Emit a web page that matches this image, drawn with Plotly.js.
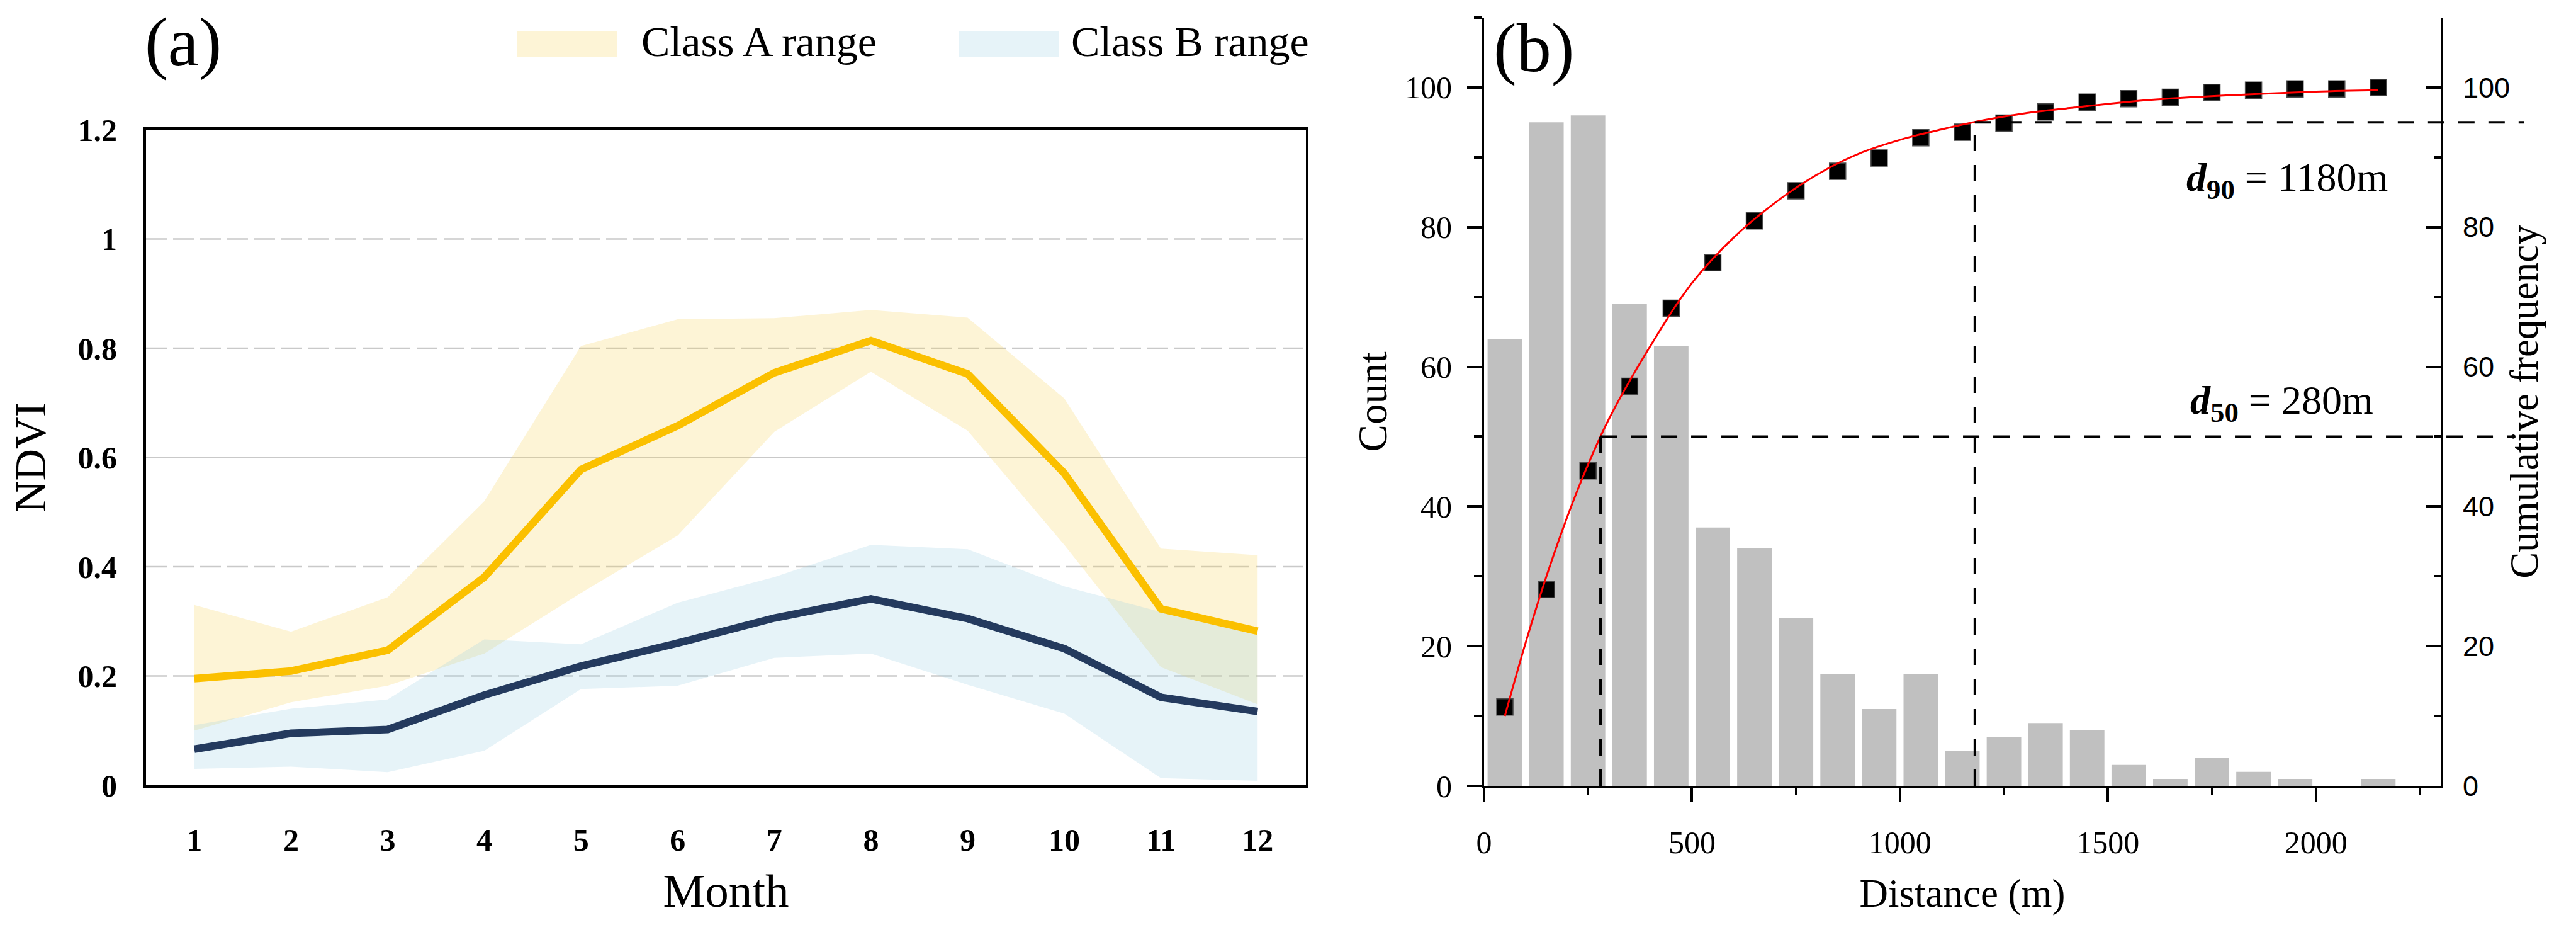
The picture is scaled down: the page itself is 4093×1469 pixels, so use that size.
<!DOCTYPE html>
<html>
<head>
<meta charset="utf-8">
<script src="https://cdn.plot.ly/plotly-3.0.1.min.js"></script>
<style>
  html, body { margin: 0; padding: 0; background: #fff; }
  #chart { width: 4093px; height: 1469px; }
</style>
</head>
<body>
<div id="chart"></div>
<script>
// ---------- (a) Monthly NDVI profiles ----------
const months = [1, 2, 3, 4, 5, 6, 7, 8, 9, 10, 11, 12];
const classAMean  = [0.195, 0.209, 0.247, 0.381, 0.578, 0.658, 0.755, 0.814, 0.753, 0.571, 0.323, 0.282];
const classAUpper = [0.330, 0.281, 0.344, 0.520, 0.804, 0.853, 0.855, 0.870, 0.856, 0.708, 0.433, 0.421];
const classALower = [0.100, 0.152, 0.182, 0.241, 0.352, 0.457, 0.647, 0.757, 0.649, 0.440, 0.216, 0.148];
const classBMean  = [0.066, 0.095, 0.102, 0.165, 0.218, 0.260, 0.306, 0.341, 0.305, 0.250, 0.161, 0.135];
const classBUpper = [0.110, 0.140, 0.157, 0.267, 0.258, 0.334, 0.381, 0.440, 0.432, 0.364, 0.317, 0.275];
const classBLower = [0.030, 0.034, 0.024, 0.063, 0.176, 0.182, 0.233, 0.241, 0.184, 0.131, 0.013, 0.008];
const ndviGridValues = [0.2, 0.4, 0.6, 0.8, 1.0];
const ndviGridDash   = ['33px,10px', '33px,10px', 'solid', '33px,10px', '33px,10px'];
const legendLabels = ['Class A range', 'Class B range'];

// ---------- (b) Distance distribution ----------
const binCenters = [50, 150, 250, 350, 450, 550, 650, 750, 850, 950, 1050,
                    1150, 1250, 1350, 1450, 1550, 1650, 1750, 1850, 1950, 2050, 2150];
const counts = [64, 95, 96, 69, 63, 37, 34, 24, 16, 11, 16, 5, 7, 9, 8, 3, 1, 4, 2, 1, 0, 1];
const cumulativeFreq = [11.3, 28.1, 45.1, 57.2, 68.4, 74.9, 80.9, 85.2, 88.0, 89.9, 92.8,
                        93.6, 94.9, 96.5, 97.9, 98.4, 98.6, 99.3, 99.6, 99.8, 99.8, 100.0];
const fitDistance = [50, 100, 150, 200, 250, 300, 400, 500, 600, 700, 800, 900, 1000,
                     1100, 1200, 1300, 1400, 1600, 1800, 2000, 2150];
const fitCumulative = [10.0, 20.5, 30.0, 38.5, 46.0, 52.5, 63.0, 72.0, 78.5, 83.5, 87.5, 90.5, 92.5,
                       94.0, 95.3, 96.3, 97.0, 98.2, 98.9, 99.4, 99.6];
const d50 = 280;
const d50Level = 50;
const d90 = 1180;
const d90Level = 95;
const distanceMax = 2300;
const freqMax = 110;

// ---------- page geometry ----------
const W = 4093, H = 1469;
const px = v => v / W;          // pixel column -> paper x
const py = v => 1 - v / H;      // pixel row    -> paper y

const SERIF = 'Liberation Serif, "Times New Roman", Times, serif';
const SANS  = 'Liberation Sans, Arial, Helvetica, sans-serif';

const colA = '#FBC000', colB = '#243A5E';
const fillA = 'rgba(247,213,90,0.25)', fillB = 'rgba(155,207,227,0.25)';

const traces = [
  { x: months, y: classALower, mode: 'lines', line: { width: 0, color: 'rgba(0,0,0,0)' },
    hoverinfo: 'skip', showlegend: false, xaxis: 'x', yaxis: 'y' },
  { x: months, y: classAUpper, mode: 'lines', line: { width: 0, color: 'rgba(0,0,0,0)' },
    fill: 'tonexty', fillcolor: fillA, name: legendLabels[0], showlegend: false, xaxis: 'x', yaxis: 'y' },
  { x: months, y: classBLower, mode: 'lines', line: { width: 0, color: 'rgba(0,0,0,0)' },
    hoverinfo: 'skip', showlegend: false, xaxis: 'x', yaxis: 'y' },
  { x: months, y: classBUpper, mode: 'lines', line: { width: 0, color: 'rgba(0,0,0,0)' },
    fill: 'tonexty', fillcolor: fillB, name: legendLabels[1], showlegend: false, xaxis: 'x', yaxis: 'y' },
  { x: months, y: classAMean, mode: 'lines', line: { color: colA, width: 12 },
    name: 'Class A', showlegend: false, xaxis: 'x', yaxis: 'y' },
  { x: months, y: classBMean, mode: 'lines', line: { color: colB, width: 12 },
    name: 'Class B', showlegend: false, xaxis: 'x', yaxis: 'y' },

  { type: 'bar', x: binCenters, y: counts, marker: { color: '#C0C0C0' },
    name: 'Count', showlegend: false, xaxis: 'x2', yaxis: 'y2' },
  { type: 'scatter', mode: 'markers', x: binCenters, y: cumulativeFreq,
    marker: { symbol: 'square', size: 26, color: '#000', line: { color: '#4a4a4a', width: 1.5 } },
    name: 'Cumulative frequency', showlegend: false, xaxis: 'x2', yaxis: 'y3' },
  { type: 'scatter', mode: 'lines', x: fitDistance, y: fitCumulative,
    line: { color: '#FF0000', width: 3, shape: 'spline' },
    name: 'Fit', showlegend: false, xaxis: 'x2', yaxis: 'y3' }
];

const titleFont = size => ({ family: SERIF, size: size, color: '#000' });

const boxAxis = {
  showline: true, linewidth: 4, linecolor: '#000', mirror: true,
  ticks: '', showgrid: false, zeroline: false, automargin: false,
  tickfont: { family: SERIF, size: 50, color: '#000', weight: 'bold' }
};

const bAxis = {
  showline: true, linewidth: 4, linecolor: '#000', mirror: false,
  showgrid: false, zeroline: false, automargin: false, tickwidth: 4, tickcolor: '#000',
  tickfont: { family: SERIF, size: 50, color: '#000' }
};

const shapes = [];
// NDVI reference lines
ndviGridValues.forEach((v, i) => {
  shapes.push({ type: 'line', layer: 'below', xref: 'x domain', yref: 'y',
    x0: 0, x1: 1, y0: v, y1: v,
    line: { color: '#C9C9C9', width: 2.5, dash: ndviGridDash[i] } });
});
// legend swatches
shapes.push({ type: 'rect', xref: 'paper', yref: 'paper',
  x0: px(821), x1: px(981), y0: py(91), y1: py(49), line: { width: 0 }, fillcolor: fillA });
shapes.push({ type: 'rect', xref: 'paper', yref: 'paper',
  x0: px(1523), x1: px(1683), y0: py(91), y1: py(49), line: { width: 0 }, fillcolor: fillB });
// d50 / d90 guide lines
const guide = { color: '#000', width: 4, dash: '26px,22px' };
shapes.push({ type: 'line', xref: 'x2', yref: 'y3', x0: d50, x1: d50, y0: 0, y1: d50Level, line: guide });
shapes.push({ type: 'line', xref: 'x2', yref: 'y3', x0: d90, x1: d90, y0: 0, y1: d90Level, line: guide });
shapes.push({ type: 'line', xref: 'x2 domain', yref: 'y3 domain',
  x0: d50 / distanceMax, x1: 1.078, y0: d50Level / freqMax, y1: d50Level / freqMax, line: guide });
shapes.push({ type: 'line', xref: 'x2 domain', yref: 'y3 domain',
  x0: d90 / distanceMax, x1: 1.087, y0: d90Level / freqMax, y1: d90Level / freqMax, line: guide });

const txt = (text, x, y, size, extra) => Object.assign({
  text: text, xref: 'paper', yref: 'paper', x: px(x), y: py(y),
  xanchor: 'center', yanchor: 'middle', showarrow: false,
  font: { family: SERIF, size: size, color: '#000' }
}, extra || {});

const annotations = [
  txt('(a)', 291, 67, 110),
  txt('(b)', 2437, 76, 110),
  txt(legendLabels[0], 1017, 66, 68, { xanchor: 'left' }),
  txt(legendLabels[1], 1700, 66, 68, { xanchor: 'left' }),
  txt('<b><i>d</i><sub>90</sub></b> = ' + d90 + 'm', 3472, 286, 64, { xanchor: 'left' }),
  txt('<b><i>d</i><sub>50</sub></b> = ' + d50 + 'm', 3478, 640, 64, { xanchor: 'left' })
];

const layout = {
  width: W, height: H,
  margin: { l: 0, r: 0, t: 0, b: 0, pad: 0 },
  paper_bgcolor: '#fff', plot_bgcolor: 'rgba(0,0,0,0)',
  showlegend: false, bargap: 0.17,
  xaxis: Object.assign({}, boxAxis, {
    domain: [px(232), px(2075)], anchor: 'y', range: [0.5, 12.5],
    tickmode: 'linear', tick0: 1, dtick: 1, ticklabelstandoff: 40,
    title: { text: 'Month', font: titleFont(75), standoff: 27 }
  }),
  yaxis: Object.assign({}, boxAxis, {
    domain: [py(1247), py(206)], anchor: 'x', range: [0, 1.2],
    tickmode: 'linear', tick0: 0, dtick: 0.2, ticklabelstandoff: 32,
    title: { text: 'NDVI', font: titleFont(70), standoff: 29 }
  }),
  xaxis2: Object.assign({}, bAxis, {
    domain: [px(2358), px(3878)], anchor: 'y2', range: [0, distanceMax],
    tickmode: 'linear', tick0: 0, dtick: 500, ticks: 'outside', ticklen: 22,
    minor: { dtick: 250, ticks: 'outside', ticklen: 11, tickwidth: 4, tickcolor: '#000' },
    ticklabelstandoff: 21,
    title: { text: 'Distance (m)', font: titleFont(63), standoff: 32 }
  }),
  yaxis2: Object.assign({}, bAxis, {
    domain: [py(1248), py(28)], anchor: 'x2', range: [0, freqMax], side: 'left',
    tickmode: 'linear', tick0: 0, dtick: 20, ticks: 'outside', ticklen: 23,
    minor: { dtick: 10, ticks: 'outside', ticklen: 12, tickwidth: 4, tickcolor: '#000' },
    ticklabelstandoff: 14,
    title: { text: 'Count', font: titleFont(65), standoff: 8 }
  }),
  yaxis3: Object.assign({}, bAxis, {
    overlaying: 'y2', anchor: 'x2', side: 'right', range: [0, freqMax],
    tickmode: 'linear', tick0: 0, dtick: 20, ticks: 'inside', ticklen: 24,
    minor: { dtick: 10, ticks: 'inside', ticklen: 11, tickwidth: 4, tickcolor: '#000' },
    tickfont: { family: SANS, size: 45, color: '#000' },
    ticklabelstandoff: 22,
    title: { text: 'Cumulative frequency', font: titleFont(63), standoff: 2 }
  }),
  shapes: shapes,
  annotations: annotations
};

Plotly.newPlot('chart', traces, layout, { staticPlot: true, displayModeBar: false });
</script>
</body>
</html>
